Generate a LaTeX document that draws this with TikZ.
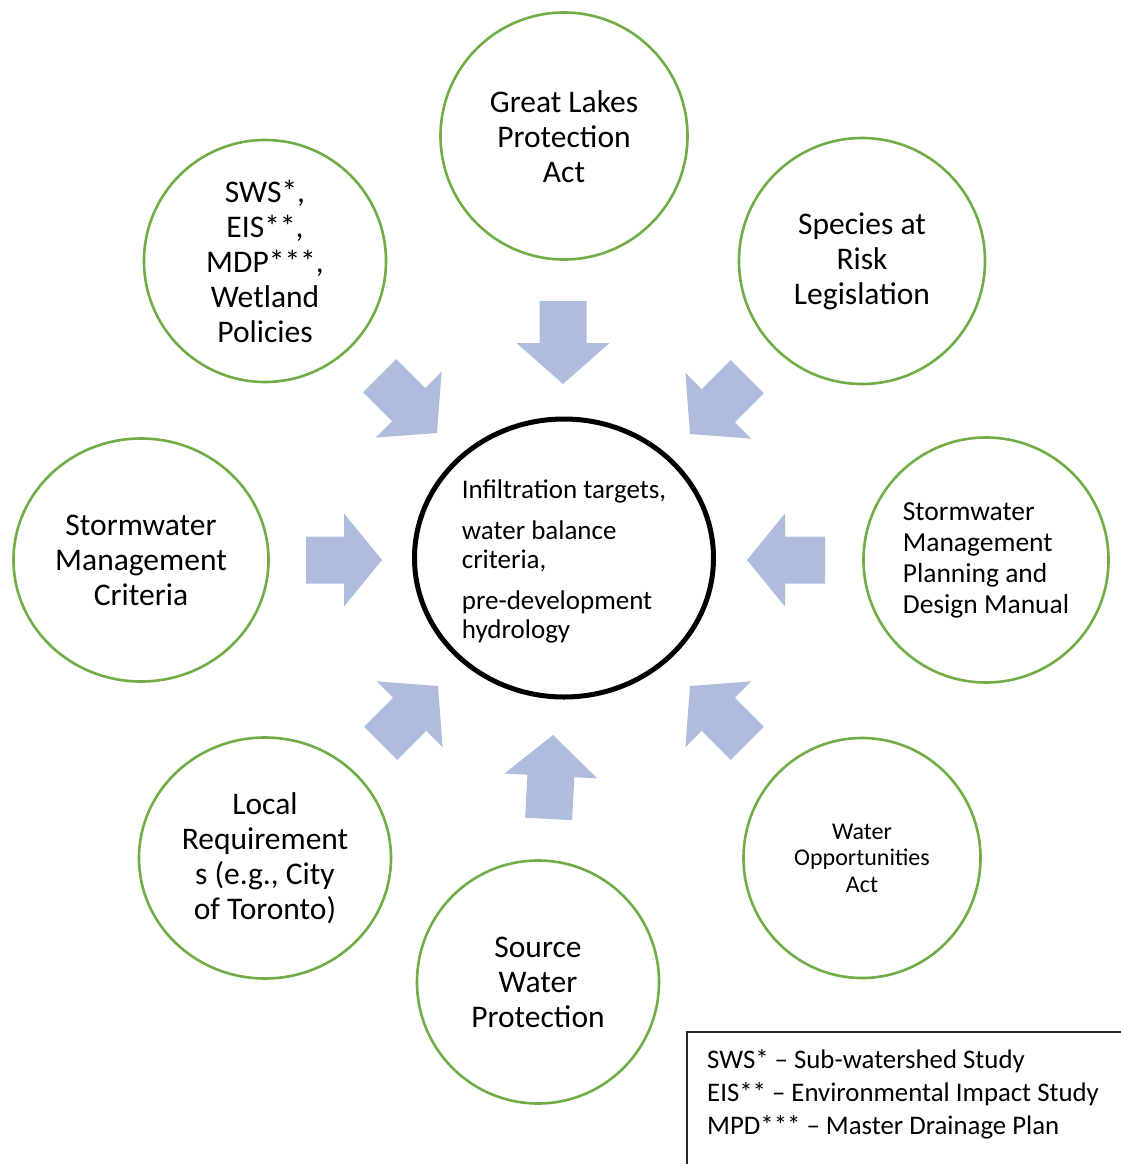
\documentclass[tikz,border=0pt]{standalone}
\usepackage{fontspec}
\setmainfont{Carlito}
\usetikzlibrary{shapes.geometric}
\definecolor{ringgreen}{RGB}{112,173,71}
\definecolor{arrowblue}{RGB}{175,188,222}
\tikzset{
  ring/.style={draw=ringgreen, line width=2.6pt, ellipse, inner sep=0pt},
  hub/.style={draw=black, line width=5pt, ellipse, inner sep=0pt},
  bigtext/.style={align=center, inner sep=0pt, font=\fontsize{31.5}{35}\selectfont},
  pics/blockarrow/.style args={#1/#2}{code={\fill[arrowblue] (0,0) -- (-#2,46.5) -- (-#2,23.5) -- (-#1,23.5) -- (-#1,-23.5) -- (-#2,-23.5) -- (-#2,-46.5) -- cycle;}}
}
\begin{document}
\begin{tikzpicture}[x=1pt,y=-1pt]
\useasboundingbox[fill=white] (0,0) rectangle (1120,1164);
% rings
\node[hub, minimum width=299pt, minimum height=278pt] (hubc) at (564,558) {};
\node[ring, minimum width=247pt, minimum height=247pt] (gl) at (564,136) {};
\node[ring, minimum width=246pt, minimum height=246pt] (sar) at (862,261) {};
\node[ring, minimum width=245pt, minimum height=245pt] (man) at (986,560) {};
\node[ring, minimum width=237pt, minimum height=240pt] (wo) at (862,858) {};
\node[ring, minimum width=242pt, minimum height=243pt] (sw) at (538,982) {};
\node[ring, minimum width=252pt, minimum height=241pt] (loc) at (265,858) {};
\node[ring, minimum width=255pt, minimum height=243pt] (crit) at (141,560) {};
\node[ring, minimum width=242pt, minimum height=242pt] (sws) at (265,261) {};
% texts
\node[align=left, inner sep=0pt, yshift=-3pt, font=\fontsize{27}{29}\selectfont] (hubt) at (hubc.center)
  {Infiltration targets,\\[12pt] water balance\\ criteria,\\[12pt] pre-development\\ hydrology};
\node[bigtext, yshift=-1pt] (glt) at (gl.center) {Great Lakes\\ Protection\\ Act};
\node[bigtext] (sart) at (sar.center) {Species at\\ Risk\\ Legislation};
\node[align=left, inner sep=0pt, font=\fontsize{27.5}{31}\selectfont] (mant) at (man.center)
  {Stormwater\\ Management\\ Planning and\\ Design Manual};
\node[align=center, inner sep=0pt, font=\fontsize{24}{26.5}\selectfont] (wot) at (wo.center)
  {Water\\ Opportunities\\ Act};
\node[bigtext] (swt) at (sw.center) {Source\\ Water\\ Protection};
\node[bigtext] (loct) at (loc.center) {Local\\ Requirement\\ s (e.g., City\\ of Toronto)};
\node[bigtext] (critt) at (crit.center) {Stormwater\\ Management\\ Criteria};
\node[bigtext] (swst) at (sws.center) {SWS*,\\ EIS**,\\ MDP***,\\ Wetland\\ Policies};
% block arrows
\path (563,384) pic[rotate=-90] {blockarrow=83/41};
\path (553,735) pic[rotate=87] {blockarrow=84/41};
\path (382,560) pic[rotate=0] {blockarrow=76/38};
\path (747,560) pic[rotate=180] {blockarrow=78/38};
\path (437,433) pic[rotate=-45] {blockarrow=81/40};
\path (690,434) pic[rotate=-135] {blockarrow=81/40};
\path (438,686) pic[rotate=45] {blockarrow=81/40};
\path (690,686) pic[rotate=135] {blockarrow=81/40};
% legend
\draw[line width=1.3pt, black!85] (687,1032) rectangle (1135,1180);
\node[anchor=west, align=left, inner sep=0pt, font=\fontsize{26.8}{33}\selectfont] (legt) at (707,1094)
  {SWS* – Sub-watershed Study\\ EIS** – Environmental Impact Study\\ MPD*** – Master Drainage Plan};
\end{tikzpicture}
\end{document}
